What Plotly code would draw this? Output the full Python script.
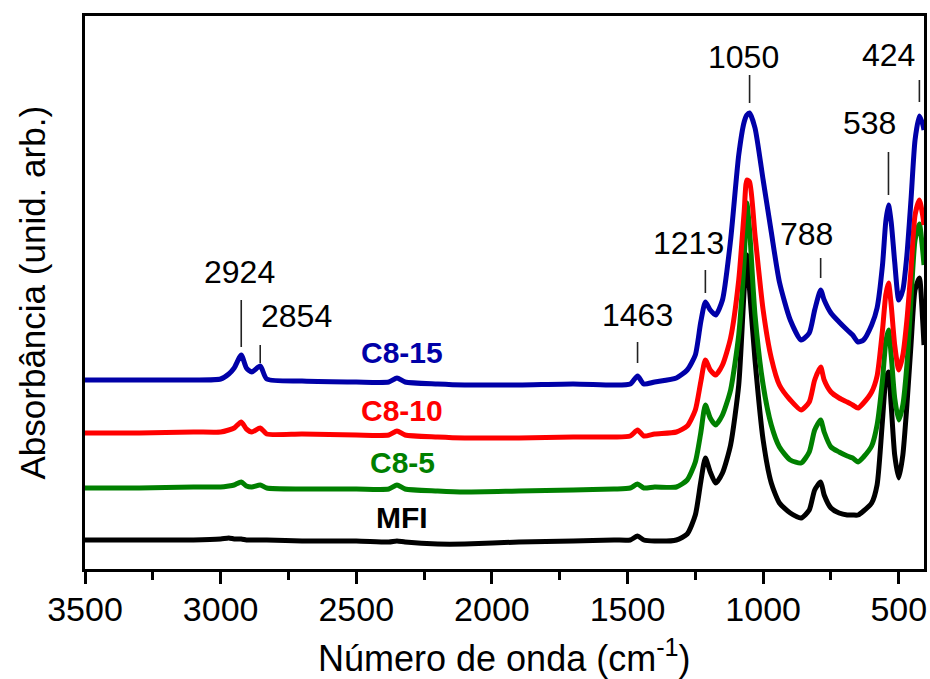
import plotly.graph_objects as go

# FTIR spectra (absorbance, stacked, arbitrary units) on a shared wavenumber grid
wavenumber = [3500, 3300, 3100, 3000, 2970, 2950, 2924, 2905, 2885, 2854,
              2830, 2700, 2500, 2380, 2350, 2320, 2200, 2100, 1900, 1700,
              1550, 1490, 1463, 1440, 1400, 1320, 1280, 1250, 1230, 1213,
              1195, 1175, 1150, 1120, 1090, 1070, 1060, 1050, 1030, 1000,
              970, 940, 900, 860, 830, 810, 788, 775, 750, 720,
              690, 670, 650, 630, 600, 580, 560, 548, 538, 528,
              515, 500, 485, 470, 455, 440, 424, 412, 407]

c8_15 = [1.89, 1.89, 1.89, 1.90, 1.95, 2.01, 2.14, 2.01, 1.97, 2.03,
         1.90, 1.88, 1.87, 1.87, 1.91, 1.87, 1.85, 1.84, 1.84, 1.85,
         1.84, 1.85, 1.93, 1.85, 1.87, 1.91, 1.99, 2.14, 2.47, 2.67,
         2.59, 2.54, 2.69, 3.29, 4.14, 4.47, 4.54, 4.56, 4.41, 3.89,
         3.37, 2.87, 2.49, 2.29, 2.36, 2.59, 2.79, 2.69, 2.56, 2.47,
         2.39, 2.34, 2.27, 2.29, 2.44, 2.61, 3.04, 3.47, 3.64, 3.47,
         3.07, 2.69, 2.79, 3.14, 3.69, 4.29, 4.53, 4.45, 4.39]

c8_10 = [1.36, 1.36, 1.37, 1.37, 1.39, 1.41, 1.47, 1.40, 1.37, 1.41,
         1.35, 1.35, 1.34, 1.34, 1.38, 1.34, 1.32, 1.31, 1.31, 1.32,
         1.32, 1.33, 1.39, 1.33, 1.35, 1.37, 1.43, 1.59, 1.87, 2.09,
         1.99, 1.94, 2.04, 2.31, 2.89, 3.57, 3.89, 3.87, 3.34, 2.59,
         2.11, 1.84, 1.69, 1.59, 1.67, 1.89, 2.02, 1.89, 1.77, 1.71,
         1.67, 1.64, 1.61, 1.66, 1.77, 1.93, 2.39, 2.74, 2.86, 2.64,
         2.24, 1.99, 2.14, 2.49, 2.99, 3.54, 3.69, 3.54, 3.44]

c8_5 = [0.81, 0.81, 0.82, 0.82, 0.83, 0.84, 0.87, 0.83, 0.82, 0.84,
        0.81, 0.80, 0.80, 0.80, 0.84, 0.80, 0.78, 0.77, 0.78, 0.79,
        0.80, 0.81, 0.85, 0.81, 0.82, 0.82, 0.89, 1.07, 1.36, 1.64,
        1.51, 1.44, 1.54, 1.79, 2.34, 3.09, 3.66, 3.39, 2.54, 1.84,
        1.44, 1.22, 1.09, 1.06, 1.17, 1.39, 1.49, 1.37, 1.22, 1.17,
        1.13, 1.11, 1.07, 1.12, 1.23, 1.44, 1.89, 2.27, 2.39, 2.14,
        1.71, 1.49, 1.64, 2.04, 2.69, 3.29, 3.45, 3.19, 3.04]

mfi = [0.29, 0.29, 0.29, 0.30, 0.31, 0.30, 0.30, 0.29, 0.29, 0.29,
       0.29, 0.28, 0.28, 0.27, 0.28, 0.27, 0.25, 0.25, 0.27, 0.28,
       0.29, 0.29, 0.33, 0.29, 0.28, 0.29, 0.35, 0.54, 0.87, 1.11,
       0.97, 0.86, 0.96, 1.24, 1.84, 2.79, 3.14, 2.79, 2.09, 1.29,
       0.86, 0.66, 0.56, 0.51, 0.59, 0.79, 0.87, 0.74, 0.61, 0.56,
       0.54, 0.54, 0.54, 0.58, 0.66, 0.84, 1.49, 1.89, 1.97, 1.64,
       1.14, 0.91, 1.14, 1.64, 2.24, 2.79, 2.91, 2.49, 2.24]

sample_names = ["MFI", "C8-5", "C8-10", "C8-15"]
sample_colors = ["#000000", "#008000", "#FF0000", "#0000A8"]
sample_series = [mfi, c8_5, c8_10, c8_15]

# Peak assignments: (band, label centre x, label centre y, marker bottom, marker top)
peaks = [
    (2924, 2931, 2.97, 2.22, 2.69),
    (2854, 2721, 2.53, 2.06, 2.24),
    (1463, 1465, 2.54, 2.06, 2.27),
    (1213, 1274, 3.26, 2.76, 2.99),
    (1050, 1072, 5.12, 4.66, 4.94),
    (788, 840, 3.35, 2.91, 3.11),
    (538, 607, 4.46, 3.74, 4.17),
    (424, 539, 5.14, 4.67, 4.89),
]

# Sample name label positions (x in cm-1, y in a.u.)
name_pos = {"C8-15": 2330, "C8-10": 2330, "C8-5": 2330, "MFI": 2330}
name_y = {"C8-15": 2.17, "C8-10": 1.59, "C8-5": 1.07, "MFI": 0.52}

FONT = "Liberation Sans, Arial, Helvetica, sans-serif"

fig = go.Figure()
for name, color, ys in zip(sample_names, sample_colors, sample_series):
    fig.add_trace(go.Scatter(
        x=wavenumber, y=ys, mode="lines", name=name,
        line=dict(color=color, width=5, shape="spline", smoothing=0.6),
        showlegend=False, hoverinfo="skip",
    ))

annotations = []
shapes = []
for band, tx, ty, y0, y1 in peaks:
    annotations.append(dict(
        x=tx, y=ty, xref="x", yref="y", text=str(band), showarrow=False,
        font=dict(family=FONT, size=32, color="#000000"),
        xanchor="center", yanchor="middle",
    ))
    shapes.append(dict(
        type="line", xref="x", yref="y", x0=band, x1=band, y0=y0, y1=y1,
        line=dict(color="#222222", width=1.6),
    ))

for name, color in zip(sample_names, sample_colors):
    annotations.append(dict(
        x=name_pos[name], y=name_y[name], xref="x", yref="y",
        text="<b>%s</b>" % name, showarrow=False,
        font=dict(family=FONT, size=30, color=color),
        xanchor="center", yanchor="middle",
    ))

# Axis titles
annotations.append(dict(
    x=0.5, y=0, xref="paper", yref="paper", yshift=-87,
    text="Número de onda (cm<sup>-1</sup>)", showarrow=False,
    font=dict(family=FONT, size=36, color="#000000"),
    xanchor="center", yanchor="middle",
))
annotations.append(dict(
    x=0, y=0.5, xref="paper", yref="paper", xshift=-53,
    text="Absorbância (unid. arb.)", showarrow=False, textangle=-90,
    font=dict(family=FONT, size=35, color="#000000"),
    xanchor="center", yanchor="middle",
))

fig.update_layout(
    width=930, height=679,
    margin=dict(l=85, r=3, t=16, b=110),
    paper_bgcolor="white", plot_bgcolor="white",
    annotations=annotations, shapes=shapes,
    xaxis=dict(
        range=[3500, 407], autorange=False,
        tickmode="array", tickvals=[3500, 3000, 2500, 2000, 1500, 1000, 500],
        ticks="outside", ticklen=12, tickwidth=3, tickcolor="#000000",
        minor=dict(tickvals=[3250, 2750, 2250, 1750, 1250, 750],
                   ticks="outside", ticklen=8, tickwidth=3, tickcolor="#000000"),
        showline=True, linewidth=3, linecolor="#000000", mirror=True,
        showgrid=False, zeroline=False,
        ticklabelstandoff=-4,
        tickfont=dict(family=FONT, size=34, color="#000000"),
    ),
    yaxis=dict(
        range=[0, 5.53], autorange=False,
        showticklabels=False, ticks="",
        showline=True, linewidth=3, linecolor="#000000", mirror=True,
        showgrid=False, zeroline=False,
    ),
)

fig.write_html("out.html")
